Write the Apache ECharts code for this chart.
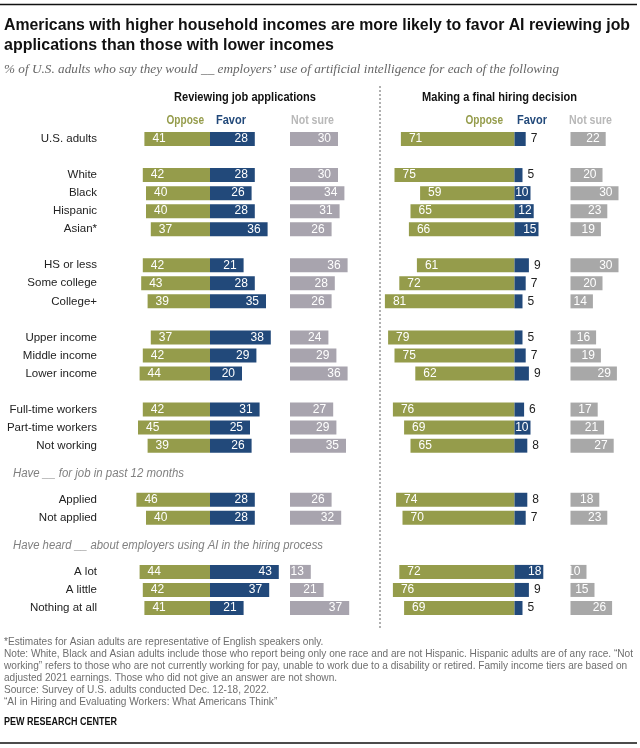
<!DOCTYPE html>
<html>
<head>
<meta charset="utf-8">
<script src="https://cdn.jsdelivr.net/npm/echarts@6/dist/echarts.min.js"></script>
<style>
html,body{margin:0;padding:0;background:#fff;}
#chart{width:640px;height:748px;}
</style>
</head>
<body>
<div id="chart"></div>
<script>
// ---- data ----
const categories = ['U.S. adults','', 'White','Black','Hispanic','Asian*','', 'HS or less','Some college','College+','', 'Upper income','Middle income','Lower income','', 'Full-time workers','Part-time workers','Not working','','', 'Applied','Not applied','','', 'A lot','A little','Nothing at all'];
const opposeReview  = [41,null,42,40,40,37,null,42,43,39,null,37,42,44,null,42,45,39,null,null,46,40,null,null,44,42,41];
const favorReview   = [28,null,28,26,28,36,null,21,28,35,null,38,29,20,null,31,25,26,null,null,28,28,null,null,43,37,21];
const notSureReview = [30,null,30,34,31,26,null,36,28,26,null,24,29,36,null,27,29,35,null,null,26,32,null,null,13,21,37];
const opposeHire    = [71,null,75,59,65,66,null,61,72,81,null,79,75,62,null,76,69,65,null,null,74,70,null,null,72,76,69];
const favorHire     = [7,null,5,10,12,15,null,9,7,5,null,5,7,9,null,6,10,8,null,null,8,7,null,null,18,9,5];
const notSureHire   = [22,null,20,30,23,19,null,30,20,14,null,16,19,29,null,17,21,27,null,null,18,23,null,null,10,15,26];
const panelTitles = ['Reviewing job applications','Making a final hiring decision'];
const legendNames = ['Oppose','Favor','Not sure'];
const sectionLabels = ['Have __ for job in past 12 months','Have heard __ about employers using AI in the hiring process'];
const titleLines = ['Americans with higher household incomes are more likely to favor AI reviewing job','applications than those with lower incomes'];
const subtitle = '% of U.S. adults who say they would __ employers\u2019 use of artificial intelligence for each of the following';
const footLines = ['*Estimates for Asian adults are representative of English speakers only.',
 'Note: White, Black and Asian adults include those who report being only one race and are not Hispanic. Hispanic adults are of any race. \u201cNot',
 'working\u201d refers to those who are not currently working for pay, unable to work due to a disability or retired. Family income tiers are based on',
 'adjusted 2021 earnings. Those who did not give an answer are not shown.',
 'Source: Survey of U.S. adults conducted Dec. 12-18, 2022.',
 '\u201cAI in Hiring and Evaluating Workers: What Americans Think\u201d'];
const sourceName = 'PEW RESEARCH CENTER';

// ---- style ----
const SANS = "'Liberation Sans',Arial,sans-serif";
const C_OPP = '#959C4B', C_FAV = '#22497A', C_NSL = '#A8A4AE', C_NSR = '#A8A8A8';
const TOP = 130, H = 487, BW = 14;

const mctx = document.createElement('canvas').getContext('2d');
function fitX(text, font, w){ mctx.font = font; return w / mctx.measureText(text).width; }

function txt(text, x, y, font, fill, align, targetW, extra){
  const s = targetW ? fitX(text, font, targetW) : 1;
  return Object.assign({type:'text', x:x, y:y, scaleX:s, silent:true,
    style:{text:text, font:font, fill:fill, align:align||'left', verticalAlign:'middle'}}, extra||{});
}

const chart = echarts.init(document.getElementById('chart'), null, {renderer:'canvas'});

function yAx(idx, showLabels){
  return {type:'category', gridIndex: idx, data: categories, inverse:true,
    axisLine:{show:false}, axisTick:{show:false}, splitLine:{show:false},
    axisLabel: showLabels ? {show:true, margin:33, color:'#222', fontFamily:SANS, fontSize:11.5, align:'right'} : {show:false}};
}
function xAx(idx, min, max){
  return {type:'value', gridIndex: idx, min:min, max:max, show:false, splitLine:{show:false}};
}
const lblBase = {fontFamily:SANS, fontSize:12, color:'#fff'};

const favorHireData = favorHire.map(v => v == null ? null : (v >= 10 ? v : {value:v, label:{position:'right', distance:5, color:'#222'}}));

const TF = "bold 16px "+SANS;
const FF = "10.5px "+SANS;
const footScale = fitX(footLines[1], FF, 629);
const HF = "bold 12.5px "+SANS;

const graphics = [
  {type:'line', shape:{x1:0,y1:4.5,x2:637,y2:4.5}, style:{stroke:'#111', lineWidth:1.5}, silent:true},
  {type:'line', shape:{x1:0,y1:743,x2:637,y2:743}, style:{stroke:'#111', lineWidth:1.5}, silent:true},
  {type:'line', shape:{x1:380,y1:86,x2:380,y2:628}, style:{stroke:'#B0B0B0', lineWidth:2, lineDash:[2,2]}, silent:true},
  txt(titleLines[0], 4, 25.5, TF, '#111', 'left', 626),
  txt(titleLines[1], 4, 45.5, TF, '#111', 'left', 330),
  txt(subtitle, 4, 70, "italic 13px 'Liberation Serif',Georgia,serif", '#666', 'left', 555),
  txt(panelTitles[0], 245, 98, HF, '#111', 'center', 142),
  txt(panelTitles[1], 499.5, 98, HF, '#111', 'center', 155),
  txt(legendNames[0], 204, 121, HF, C_OPP, 'right', 37.5),
  txt(legendNames[1], 216, 121, HF, C_FAV, 'left', 30),
  txt(legendNames[2], 291, 121, HF, '#B8B8B8', 'left', 43),
  txt(legendNames[0], 503, 121, HF, C_OPP, 'right', 37.5),
  txt(legendNames[1], 517, 121, HF, C_FAV, 'left', 30),
  txt(legendNames[2], 569, 121, HF, '#B8B8B8', 'left', 43),
  txt(sectionLabels[0], 13, 474, "italic 12px "+SANS, '#808080', 'left', 171),
  txt(sectionLabels[1], 13, 546, "italic 12px "+SANS, '#808080', 'left', 310),
  txt(sourceName, 4, 722, "bold 11px "+SANS, '#111', 'left', 113)
];
footLines.forEach((l, i) => {
  graphics.push({type:'text', x:4, y:642 + i*12, scaleX:footScale, silent:true,
    style:{text:l, font:FF, fill:'#6E6E6E', align:'left', verticalAlign:'middle'}});
});

const option = {
  animation:false,
  grid:[
    {left:130, width:160, top:TOP, height:H},
    {left:290, width:64, top:TOP, height:H},
    {left:370.5, width:176, top:TOP, height:H},
    {left:570.5, width:64, top:TOP, height:H}
  ],
  xAxis:[xAx(0,-50,50), xAx(1,0,40), xAx(2,-90,20), xAx(3,0,40)],
  yAxis:[yAx(0,true), yAx(1,false), yAx(2,false), yAx(3,false)],
  series:[
    {name:'Oppose', type:'bar', xAxisIndex:0, yAxisIndex:0, stack:'L', barWidth:BW, silent:true,
     itemStyle:{color:C_OPP}, data: opposeReview.map(v => v == null ? null : -v),
     label:Object.assign({show:true, position:'insideLeft', distance:8, formatter:p => Math.abs(p.value)}, lblBase)},
    {name:'Favor', type:'bar', xAxisIndex:0, yAxisIndex:0, stack:'L', barWidth:BW, silent:true,
     itemStyle:{color:C_FAV}, data: favorReview,
     label:Object.assign({show:true, position:'insideRight', distance:7}, lblBase)},
    {name:'Not sure', type:'bar', xAxisIndex:1, yAxisIndex:1, barWidth:BW, silent:true,
     itemStyle:{color:C_NSL}, data: notSureReview,
     label:Object.assign({show:true, position:'insideRight', distance:7}, lblBase)},
    {name:'Oppose', type:'bar', xAxisIndex:2, yAxisIndex:2, stack:'R', barWidth:BW, silent:true,
     itemStyle:{color:C_OPP}, data: opposeHire.map(v => v == null ? null : -v),
     label:Object.assign({show:true, position:'insideLeft', distance:8, formatter:p => Math.abs(p.value)}, lblBase)},
    {name:'Favor', type:'bar', xAxisIndex:2, yAxisIndex:2, stack:'R', barWidth:BW, silent:true,
     itemStyle:{color:C_FAV}, data: favorHireData,
     label:Object.assign({show:true, position:'insideRight', distance:2}, lblBase)},
    {name:'Not sure', type:'bar', xAxisIndex:3, yAxisIndex:3, barWidth:BW, silent:true,
     itemStyle:{color:C_NSR}, data: notSureHire,
     label:Object.assign({show:true, position:'insideRight', distance:6}, lblBase)}
  ],
  graphic: graphics
};
chart.setOption(option);
</script>
</body>
</html>
